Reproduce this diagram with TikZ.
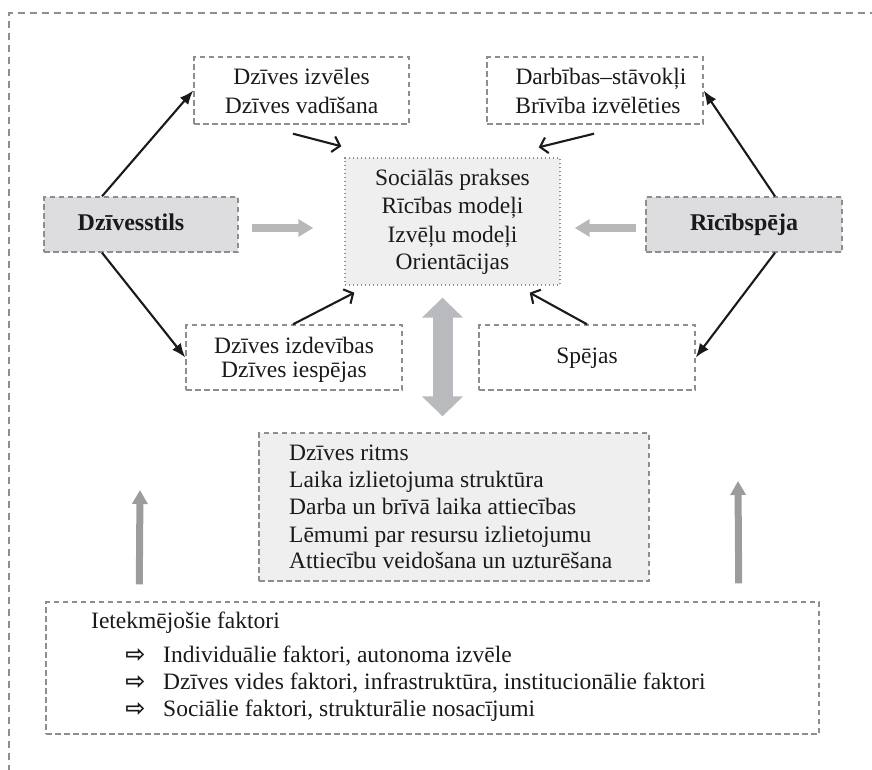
\documentclass[tikz,border=0pt]{standalone}
\usepackage{fontspec}
\setmainfont{Liberation Serif}
\newfontfamily\symfnt{DejaVu Sans}
\usetikzlibrary{arrows.meta,calc}
\definecolor{bordergray}{HTML}{8E8E8E}
\definecolor{boxfill}{HTML}{DDDDDF}
\definecolor{lightfill}{HTML}{EFEFEF}
\definecolor{harrowgray}{HTML}{B8B8B8}
\definecolor{darrowgray}{HTML}{B9BABD}
\definecolor{varrowgray}{HTML}{9C9C9E}
\definecolor{blackline}{HTML}{1A1A1A}
\begin{document}
\begin{tikzpicture}[x=1pt,y=-1pt,
  box/.style={draw=bordergray, line width=1.4pt, dash pattern=on 5.5pt off 3.5pt, inner sep=0pt},
  dotbox/.style={draw=bordergray, line width=1.4pt, dash pattern=on 1.4pt off 2.6pt, inner sep=0pt, fill=lightfill},
  txt/.style={font=\fontsize{23.5}{28}\selectfont, inner sep=0pt, anchor=base, text=blackline},
  ltxt/.style={font=\fontsize{23.5}{28}\selectfont, inner sep=0pt, anchor=base west, text=blackline},
  btxt/.style={font=\bfseries\fontsize{24}{28}\selectfont, inner sep=0pt, anchor=base, text=blackline},
  bul/.style={font=\symfnt\bfseries\fontsize{24}{26}\selectfont, inner sep=0pt, anchor=base, text=blackline},
  blk/.style={draw=blackline, line width=2.1pt, -{Latex[length=14pt,width=11pt]}},
  barb/.style={draw=blackline, line width=2.1pt, -{Straight Barb[length=7pt,width=16pt]}},
  harrow/.style={draw=harrowgray, line width=7.5pt, -{Triangle[length=15pt,width=17pt]}},
  darrow/.style={draw=darrowgray, line width=20pt, {Triangle[length=20pt,width=40pt]}-{Triangle[length=20pt,width=40pt]}},
  varrow/.style={draw=varrowgray, line width=7pt, -{Triangle[length=14pt,width=15pt]}}
]
\useasboundingbox (0,0) rectangle (872,769);
\clip (0,0) rectangle (872,769);
% outer frame (cut at right and bottom)
\draw[bordergray, line width=1.3pt, dash pattern=on 7pt off 5pt] (9,880) -- (9,13) -- (990,13);

% boxes
\node[box, minimum width=215pt, minimum height=67pt] (b1) at (301.5,90.5) {};
\node[box, minimum width=216pt, minimum height=67pt] (b2) at (595,90.5) {};
\node[dotbox, minimum width=215pt, minimum height=127pt] (c) at (452.5,221.5) {};
\node[box, fill=boxfill, minimum width=194pt, minimum height=55pt] (L) at (141,224.5) {};
\node[box, fill=boxfill, minimum width=196pt, minimum height=55pt] (R) at (744,224.5) {};
\node[box, minimum width=216pt, minimum height=65pt] (b3) at (294,357.5) {};
\node[box, minimum width=216pt, minimum height=65pt] (b4) at (587,357.5) {};
\node[box, fill=lightfill, minimum width=390pt, minimum height=148pt] (g) at (454,507) {};
\node[box, minimum width=773pt, minimum height=132pt] (f) at (432.5,668) {};

% texts
\node[txt] (b1a) at (301.5,84) {Dzīves izvēles};
\node[txt] (b1b) at (301.5,113) {Dzīves vadīšana};
\node[txt] (b2a) at (601,84) {Darbības–stāvokļi};
\node[txt] (b2b) at (598,113) {Brīvība izvēlēties};
\node[txt] (c1) at (452.5,185) {Sociālās prakses};
\node[txt] (c2) at (452.5,213) {Rīcības modeļi};
\node[txt] (c3) at (452.5,242) {Izvēļu modeļi};
\node[txt] (c4) at (452.5,269) {Orientācijas};
\node[btxt] (Lt) at (131,230) {Dzīvesstils};
\node[btxt] (Rt) at (744,230) {Rīcībspēja};
\node[txt] (b3a) at (294,353) {Dzīves izdevības};
\node[txt] (b3b) at (294,377) {Dzīves iespējas};
\node[txt] (b4a) at (587,363) {Spējas};
\node[ltxt] (g1) at (289,460) {Dzīves ritms};
\node[ltxt] (g2) at (289,487) {Laika izlietojuma struktūra};
\node[ltxt] (g3) at (289,514) {Darba un brīvā laika attiecības};
\node[ltxt] (g4) at (289,542) {Lēmumi par resursu izlietojumu};
\node[ltxt] (g5) at (289,568) {Attiecību veidošana un uzturēšana};
\node[ltxt] (f0) at (91,628) {Ietekmējošie faktori};
\node[bul] (fb1) at (135.5,662) {⇨};
\node[bul] (fb2) at (135.5,689) {⇨};
\node[bul] (fb3) at (135.5,716) {⇨};
\node[ltxt] (f1) at (163,662) {Individuālie faktori, autonoma izvēle};
\node[ltxt] (f2) at (163,689) {Dzīves vides faktori, infrastruktūra, institucionālie faktori};
\node[ltxt] (f3) at (163,716) {Sociālie faktori, strukturālie nosacījumi};

% black arrows
\draw[blk] ([xshift=-39pt]L.north) -- (b1.west);
\draw[blk] ([xshift=-39pt]L.south) -- (b3.west);
\draw[blk] ([xshift=31pt]R.north) -- (b2.east);
\draw[blk] ([xshift=31pt]R.south) -- (b4.east);
\draw[barb] ([shift={(-8.5pt,-9pt)}]b1.south) -- ([shift={(-3pt,11pt)}]c.north west);
\draw[barb] ([shift={(-1pt,-9pt)}]b2.south) -- ([shift={(-22pt,10pt)}]c.north east);
\draw[barb] ([xshift=-1pt]b3.north) -- ([shift={(10pt,-7pt)}]c.south west);
\draw[barb] (b4.north) -- ([shift={(-31pt,-7pt)}]c.south east);

% gray arrows
\draw[harrow] ([shift={(13pt,-3.5pt)}]L.east) -- ([shift={(-31pt,-6.5pt)}]c.west);
\draw[harrow] ([shift={(-9pt,-3.5pt)}]R.west) -- ([shift={(14pt,-6.5pt)}]c.east);
\draw[darrow] ([shift={(-10pt,-12pt)}]c.south) -- ([shift={(-11.5pt,16pt)}]g.north);
\coordinate (lt) at (140,490);
\coordinate (rt) at (738,481);
\draw[varrow] ([shift={(94pt,17pt)}]f.north west) -- (lt);
\draw[varrow] ([shift={(-81pt,18pt)}]f.north east) -- (rt);
\end{tikzpicture}
\end{document}
